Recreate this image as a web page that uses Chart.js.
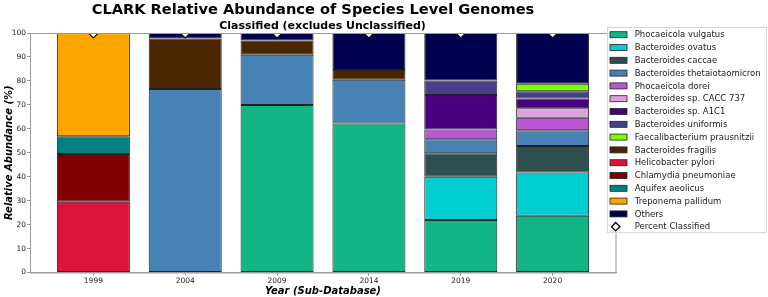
<!DOCTYPE html>
<html>
<head>
<meta charset="utf-8">
<script src="https://cdn.jsdelivr.net/npm/chart.js@4/dist/chart.umd.min.js"></script>
<style>
html,body{margin:0;padding:0;background:#fff;}
#wrap{width:768px;height:297px;position:relative;}
</style>
</head>
<body>
<div id="wrap"><canvas id="c" width="768" height="297"></canvas></div>
<script>
const years = ['1999', '2004', '2009', '2014', '2019', '2020'];
const yTicks = [0, 10, 20, 30, 40, 50, 60, 70, 80, 90, 100];

const phocaeicolaVulgatus = [null, null, 69.9, 62.2, 21.9, 23.7];
const bacteroidesOvatus = [null, null, null, null, 18.1, 18.1];
const bacteroidesCaccae = [null, null, null, null, 9.8, 11.0];
const bacteroidesTheta = [null, 76.6, 21.0, 18.3, 5.8, 6.6];
const phocaeicolaDorei = [null, null, null, null, 4.1, 5.2];
const bacteroidesCACC737 = [null, null, null, null, null, 4.0];
const bacteroidesA1C1 = [null, null, null, null, 14.4, 4.0];
const bacteroidesUniformis = [null, null, null, null, 6.1, 3.1];
const faecalibacterium = [null, null, null, null, null, 3.1];
const bacteroidesFragilis = [null, 21.1, 6.0, 4.0, null, null];
const helicobacterPylori = [29.5, null, null, null, null, null];
const chlamydiaPneumoniae = [20.0, null, null, null, null, null];
const aquifexAeolicus = [7.4, null, null, null, null, null];
const treponemaPallidum = [43.1, null, null, null, null, null];
const others = [null, 2.3, 3.1, 15.5, 19.8, 21.2];
const percentClassified = [100, 100, 100, 100, 100, 100];

const seriesNames = ['Phocaeicola vulgatus', 'Bacteroides ovatus', 'Bacteroides caccae',
  'Bacteroides thetaiotaomicron', 'Phocaeicola dorei', 'Bacteroides sp. CACC 737',
  'Bacteroides sp. A1C1', 'Bacteroides uniformis', 'Faecalibacterium prausnitzii',
  'Bacteroides fragilis', 'Helicobacter pylori', 'Chlamydia pneumoniae',
  'Aquifex aeolicus', 'Treponema pallidum', 'Others'];
const seriesValues = [phocaeicolaVulgatus, bacteroidesOvatus, bacteroidesCaccae,
  bacteroidesTheta, phocaeicolaDorei, bacteroidesCACC737, bacteroidesA1C1,
  bacteroidesUniformis, faecalibacterium, bacteroidesFragilis, helicobacterPylori,
  chlamydiaPneumoniae, aquifexAeolicus, treponemaPallidum, others];
const seriesColors = ['#12b584', '#00ced1', '#2f4f4f', '#4682b4', '#ba55d3', '#dda0dd',
  '#4b0082', '#483d8b', '#7cfc00', '#4a2600', '#dc143c', '#800000', '#008080',
  '#ffa500', '#00004e'];

const FONT = '"DejaVu Sans", "Liberation Sans", sans-serif';
const EDGE = '#222222';

const datasets = seriesNames.map((name, i) => ({
  type: 'bar',
  label: name,
  data: seriesValues[i].map((v, j) => ({x: j, y: v})),
  backgroundColor: seriesColors[i],
  borderColor: EDGE,
  borderWidth: 1,
  borderSkipped: false,
  categoryPercentage: 1.0,
  barPercentage: 0.795,
  stack: 'abund',
  order: 1
}));
datasets.push({
  type: 'line',
  label: 'Percent Classified',
  data: percentClassified.map((v, j) => ({x: j, y: v})),
  showLine: false,
  pointStyle: 'rectRot',
  pointRadius: 5,
  pointHoverRadius: 5,
  pointBackgroundColor: '#ffffff',
  pointBorderColor: '#111111',
  pointBorderWidth: 1.2,
  stack: 'pc',
  clip: 0,
  order: 0
});

const decor = {
  id: 'decor',
  afterDraw(chart) {
    const ctx = chart.ctx;
    const a = chart.chartArea;
    ctx.save();
    // frame (top/right spines)
    ctx.strokeStyle = '#9a9a9a';
    ctx.lineWidth = 1;
    ctx.strokeRect(a.left + 0.5, a.top + 0.5, a.right - a.left - 0.5, a.bottom - a.top);
    // titles
    ctx.fillStyle = '#000';
    ctx.textAlign = 'center';
    ctx.textBaseline = 'alphabetic';
    ctx.font = 'bold 14.6px ' + FONT;
    ctx.fillText('CLARK Relative Abundance of Species Level Genomes', 313, 14);
    ctx.font = 'bold 11px ' + FONT;
    ctx.fillText('Classified (excludes Unclassified)', 322.5, 29.3);
    // axis titles
    ctx.font = 'italic bold 10px ' + FONT;
    ctx.fillText('Year (Sub-Database)', (a.left + a.right) / 2, 293.5);
    ctx.save();
    ctx.translate(11.5, (a.top + a.bottom) / 2);
    ctx.rotate(-Math.PI / 2);
    ctx.fillText('Relative Abundance (%)', 0, 0);
    ctx.restore();
    // legend
    const lx = 607, ly = 27, lw = 160, lh = 206;
    ctx.fillStyle = 'rgba(255,255,255,0.85)';
    ctx.fillRect(lx, ly, lw, lh);
    ctx.strokeStyle = '#d6d6d6';
    ctx.lineWidth = 1;
    ctx.strokeRect(lx + 0.5, ly + 0.5, lw - 1, lh - 1);
    ctx.font = '8.5px ' + FONT;
    ctx.textAlign = 'left';
    ctx.textBaseline = 'middle';
    const items = chart.data.datasets;
    items.forEach((ds, i) => {
      const cy = 34.7 + i * 12.8;
      if (ds.type === 'bar') {
        ctx.fillStyle = ds.backgroundColor;
        ctx.fillRect(610, cy - 3, 17, 6);
        ctx.strokeStyle = EDGE;
        ctx.lineWidth = 0.8;
        ctx.strokeRect(610, cy - 3, 17, 6);
      } else {
        ctx.beginPath();
        ctx.moveTo(615.7, cy - 4.2);
        ctx.lineTo(619.9, cy);
        ctx.lineTo(615.7, cy + 4.2);
        ctx.lineTo(611.5, cy);
        ctx.closePath();
        ctx.fillStyle = '#fff';
        ctx.fill();
        ctx.strokeStyle = '#000';
        ctx.lineWidth = 1.3;
        ctx.stroke();
      }
      ctx.fillStyle = '#1a1a1a';
      ctx.fillText(ds.label, 634.7, cy + 0.5);
    });
    ctx.restore();
  }
};

new Chart(document.getElementById('c'), {
  data: {datasets},
  options: {
    responsive: false,
    animation: false,
    events: [],
    layout: {padding: {top: 33, right: 152, bottom: 0, left: 0}},
    plugins: {legend: {display: false}, title: {display: false}, tooltip: {enabled: false}},
    scales: {
      x: {
        type: 'linear',
        stacked: true,
        offset: false,
        min: -0.69,
        max: 5.69,
        afterFit(s) { s.height = 24.5; },
        grid: {display: true, offset: false, drawOnChartArea: false, drawTicks: true, tickLength: 3, color: '#9a9a9a'},
        border: {display: true, color: '#9a9a9a'},
        ticks: {
          stepSize: 1,
          includeBounds: false,
          autoSkip: false,
          maxRotation: 0,
          padding: 1,
          color: '#222',
          font: {family: FONT, size: 7.5},
          callback: (v) => (Number.isInteger(v) && years[v] !== undefined) ? years[v] : ''
        }
      },
      y: {
        stacked: true,
        min: 0,
        max: 100,
        afterFit(s) { s.width = 30; },
        afterBuildTicks(s) { s.ticks = yTicks.map(v => ({value: v})); },
        grid: {display: true, drawOnChartArea: false, drawTicks: true, tickLength: 3, color: '#9a9a9a'},
        border: {display: true, color: '#9a9a9a'},
        ticks: {
          padding: 1,
          color: '#222',
          font: {family: FONT, size: 7.5}
        }
      }
    }
  },
  plugins: [decor]
});
</script>
</body>
</html>
